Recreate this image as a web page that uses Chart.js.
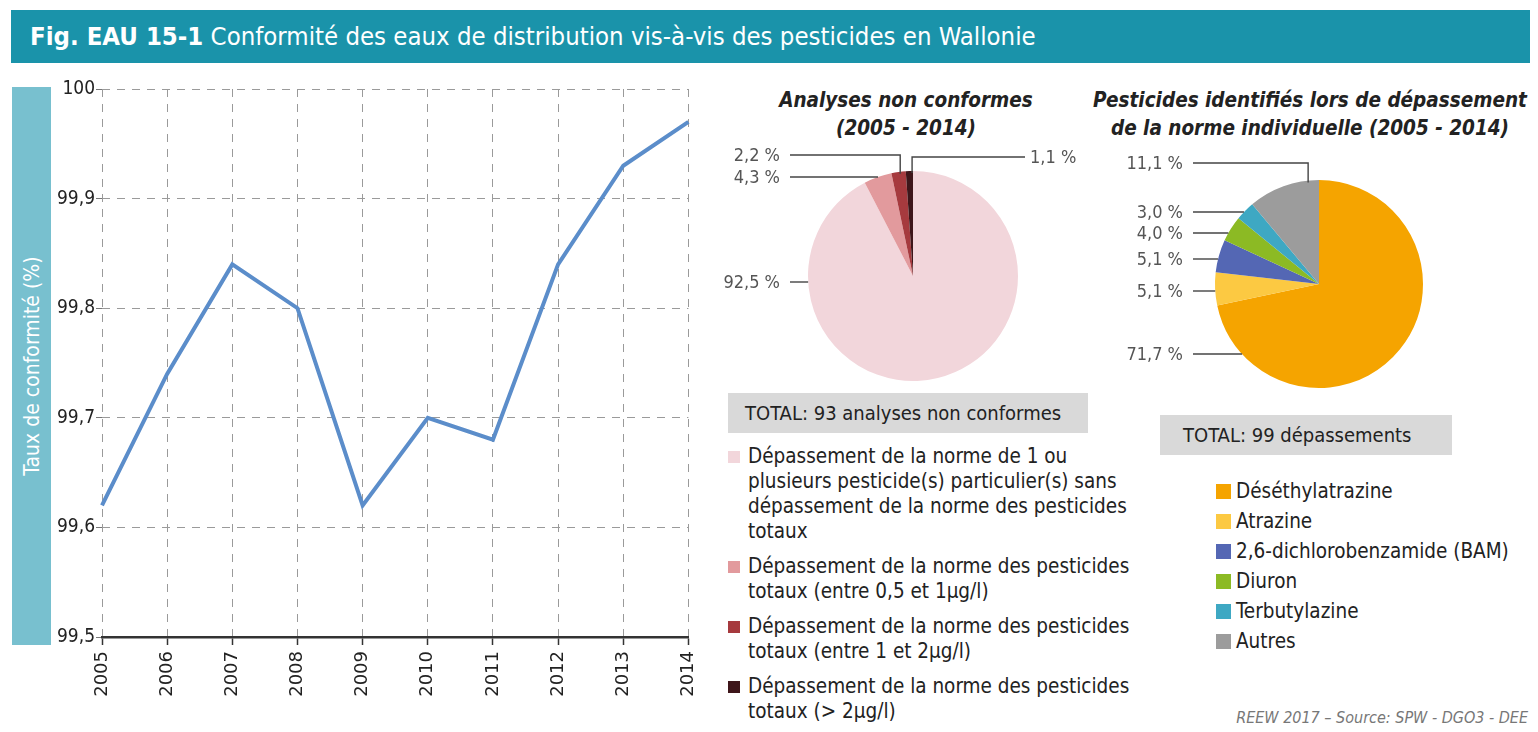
<!DOCTYPE html>
<html><head><meta charset="utf-8">
<script src="https://cdn.jsdelivr.net/npm/chart.js@4/dist/chart.umd.min.js"></script>
<style>
body{margin:0;background:#fff;width:1538px;height:732px;overflow:hidden;position:relative;font-family:"Liberation Sans Narrow","DejaVu Sans Condensed","Open Sans",sans-serif;color:#222;}
#bar{position:absolute;left:11px;top:10px;width:1519px;height:53px;background:#1A93AA;color:#fff;font-size:25.5px;line-height:53px;padding-left:19px;box-sizing:border-box;white-space:nowrap;}
#bar b{font-weight:bold;}
#ytitle{position:absolute;left:12px;top:87px;width:39px;height:558px;background:#78C0CF;}
#ytitle span{position:absolute;left:50%;top:50%;transform:translate(-50%,-50%) rotate(-90deg);color:#fff;font-size:21px;white-space:nowrap;}
canvas{position:absolute;}
.ptitle{position:absolute;text-align:center;font-weight:bold;font-style:italic;font-size:20.5px;line-height:28px;color:#222;white-space:nowrap;}
.total{position:absolute;background:#D9D9D9;font-size:20px;line-height:40px;height:40px;box-sizing:border-box;white-space:nowrap;}
.leg{position:absolute;font-size:20.5px;}
.leg .it{position:relative;padding-left:20px;white-space:nowrap;}
.leg .sw{position:absolute;left:0;width:13px;height:13px;}
#foot{position:absolute;right:10px;top:708px;font-style:italic;color:#777;font-size:16px;white-space:nowrap;}
</style></head>
<body>
<div id="bar"><b>Fig. EAU 15-1</b> Conformité des eaux de distribution vis-à-vis des pesticides en Wallonie</div>
<div id="ytitle"><span>Taux de conformité (%)</span></div>
<canvas id="c1" width="666" height="650" style="left:50px;top:70px;width:666px;height:650px"></canvas>
<div class="ptitle" style="left:720px;top:86px;width:372px">Analyses non conformes<br>(2005 - 2014)</div>
<div class="ptitle" style="left:1080px;top:86px;width:460px">Pesticides identifiés lors de dépassement<br>de la norme individuelle (2005 - 2014)</div>
<canvas id="c2" width="390" height="250" style="left:720px;top:140px;width:390px;height:250px"></canvas>
<canvas id="c3" width="410" height="260" style="left:1120px;top:140px;width:410px;height:260px"></canvas>
<div class="total" style="left:728px;top:393px;width:360px;padding-left:17px">TOTAL: 93 analyses non conformes</div>
<div class="total" style="left:1160px;top:415px;width:292px;padding-left:23px">TOTAL: 99 dépassements</div>
<div class="leg" id="leg1" style="left:728px;top:444px;line-height:25px"></div>
<div class="leg" id="leg2" style="left:1216px;top:476px;line-height:30px"></div>
<div id="foot">REEW 2017 – Source: SPW - DGO3 - DEE</div>
<script>
// ---- data ----
const years = ['2005','2006','2007','2008','2009','2010','2011','2012','2013','2014'];
const conformite = [99.62, 99.74, 99.84, 99.80, 99.62, 99.70, 99.68, 99.84, 99.93, 99.97];
const yTicks = [99.5, 99.6, 99.7, 99.8, 99.9, 100];

const analysesLabels = [
  ['Dépassement de la norme de 1 ou','plusieurs pesticide(s) particulier(s) sans','dépassement de la norme des pesticides','totaux'],
  ['Dépassement de la norme des pesticides','totaux (entre 0,5 et 1µg/l)'],
  ['Dépassement de la norme des pesticides','totaux (entre 1 et 2µg/l)'],
  ['Dépassement de la norme des pesticides','totaux (> 2µg/l)']
];
const analysesValues = [92.5, 4.3, 2.2, 1.1];
const analysesColors = ['#F2D6DB','#E29A9D','#A63A3E','#3E161A'];

const pesticidesLabels = ['Déséthylatrazine','Atrazine','2,6-dichlorobenzamide (BAM)','Diuron','Terbutylazine','Autres'];
const pesticidesValues = [71.7, 5.1, 5.1, 4.0, 3.0, 11.1];
const pesticidesColors = ['#F5A400','#FCC942','#5467B4','#8CBA24','#3EA8C3','#9C9C9C'];

const fmt = v => v.toFixed(1).replace('.', ',');

// ---- legends (HTML) ----
function buildLegend(el, labels, colors, gap, swSize, swTop){
  labels.forEach((lab, i) => {
    const d = document.createElement('div'); d.className = 'it';
    d.style.marginBottom = gap + 'px';
    const sw = document.createElement('span'); sw.className = 'sw';
    sw.style.background = colors[i]; sw.style.width = swSize+'px'; sw.style.height = swSize+'px'; sw.style.top = swTop+'px';
    d.appendChild(sw);
    const lines = Array.isArray(lab) ? lab : [lab];
    lines.forEach((ln, j) => { if (j) d.appendChild(document.createElement('br')); d.appendChild(document.createTextNode(ln)); });
    el.appendChild(d);
  });
}
buildLegend(document.getElementById('leg1'), analysesLabels, analysesColors, 10, 12, 7);
buildLegend(document.getElementById('leg2'), pesticidesLabels, pesticidesColors, 0, 15, 8);

// ---- line chart ----
new Chart(document.getElementById('c1'), {
  type: 'line',
  data: { labels: years, datasets: [{ data: conformite, borderColor: '#5B8DCA', borderWidth: 4, pointRadius: 0, tension: 0, fill: false }] },
  options: {
    responsive: false, animation: false,
    layout: { padding: { top: 19, right: 15, left: 0, bottom: 0 } },
    plugins: { legend: { display: false }, tooltip: { enabled: false } },
    scales: {
      x: {
        offset: false,
        grid: { color: '#9A9A9A', lineWidth: 1, tickLength: 8, tickColor: '#333', tickWidth: 1.5, tickBorderDash: [] },
        border: { display: true, color: '#333', width: 2.5, dash: [8, 7] },
        ticks: { minRotation: 90, maxRotation: 90, padding: 6, color: '#222', font: { family: 'DejaVu Sans', size: 18 } },
        afterFit: s => { s.height = 83; }
      },
      y: {
        min: 99.5, max: 100,
        afterBuildTicks: s => { s.ticks = yTicks.map(v => ({ value: v })); },
        grid: { color: '#9A9A9A', lineWidth: 1, tickLength: 6, tickColor: '#777', tickBorderDash: [] },
        border: { display: false, dash: [8, 7] },
        ticks: { padding: 1, color: '#222', font: { family: '"Liberation Sans Narrow","DejaVu Sans Condensed",sans-serif', size: 19 },
                 callback: v => (Math.round(v * 10) / 10).toString().replace('.', ',') },
        afterFit: s => { s.width = 52; }
      }
    }
  }
});

// ---- pie label plugin ----
const pieLabels = {
  id: 'pieLabels',
  afterDraw(chart, args, opts) {
    const arc = chart.getDatasetMeta(0).data[0];
    const cx = arc.x, cy = arc.y, r = arc.outerRadius;
    const ctx = chart.ctx;
    ctx.save();
    ctx.font = '18px "Liberation Sans Narrow","DejaVu Sans Condensed",sans-serif';
    ctx.fillStyle = '#555'; ctx.strokeStyle = '#444'; ctx.lineWidth = 1.4;
    ctx.textBaseline = 'middle';
    opts.items.forEach(it => {
      const val = chart.data.datasets[0].data[it.index];
      const y = cy + it.dy;
      let ax, ay = y, bend = false;
      if (it.angle === undefined) { ax = cx + it.side * Math.sqrt(Math.max(r * r - it.dy * it.dy, 0)); }
      else { const a = it.angle * Math.PI / 180; ax = cx + r * Math.sin(a); ay = cy - r * Math.cos(a) + 2; bend = true; }
      ctx.beginPath(); ctx.moveTo(cx + it.side * it.lineStart, y); ctx.lineTo(ax, y); if (bend) ctx.lineTo(ax, ay); ctx.stroke();
      ctx.textAlign = it.side < 0 ? 'right' : 'left';
      ctx.fillText(fmt(val) + ' %', cx + it.side * it.textOff, y + 1);
    });
    ctx.restore();
  }
};

new Chart(document.getElementById('c2'), {
  type: 'pie',
  data: { labels: analysesLabels.map(l => l.join(' ')), datasets: [{ data: analysesValues, backgroundColor: analysesColors, borderWidth: 0 }] },
  options: {
    responsive: false, animation: false,
    layout: { padding: { left: 88, top: 31, right: 92, bottom: 9 } },
    plugins: { legend: { display: false }, tooltip: { enabled: false },
      pieLabels: { items: [
        { index: 0, dy: 6, side: -1, lineStart: 123, textOff: 133 },
        { index: 1, dy: -99, side: -1, lineStart: 123, textOff: 133 },
        { index: 2, dy: -121, side: -1, lineStart: 123, textOff: 133, angle: -7 },
        { index: 3, dy: -119, side: 1, lineStart: 112, textOff: 117, angle: -0.5 }
      ] } }
  },
  plugins: [pieLabels]
});

new Chart(document.getElementById('c3'), {
  type: 'pie',
  data: { labels: pesticidesLabels, datasets: [{ data: pesticidesValues, backgroundColor: pesticidesColors, borderWidth: 0 }] },
  options: {
    responsive: false, animation: false,
    layout: { padding: { left: 95, top: 40, right: 107, bottom: 12 } },
    plugins: { legend: { display: false }, tooltip: { enabled: false },
      pieLabels: { items: [
        { index: 0, dy: 70, side: -1, lineStart: 126, textOff: 136 },
        { index: 1, dy: 7, side: -1, lineStart: 126, textOff: 136 },
        { index: 2, dy: -25, side: -1, lineStart: 126, textOff: 136 },
        { index: 3, dy: -51, side: -1, lineStart: 126, textOff: 136 },
        { index: 4, dy: -72, side: -1, lineStart: 126, textOff: 136 },
        { index: 5, dy: -121, side: -1, lineStart: 126, textOff: 136, angle: -6 }
      ] } }
  },
  plugins: [pieLabels]
});
</script>
</body></html>
